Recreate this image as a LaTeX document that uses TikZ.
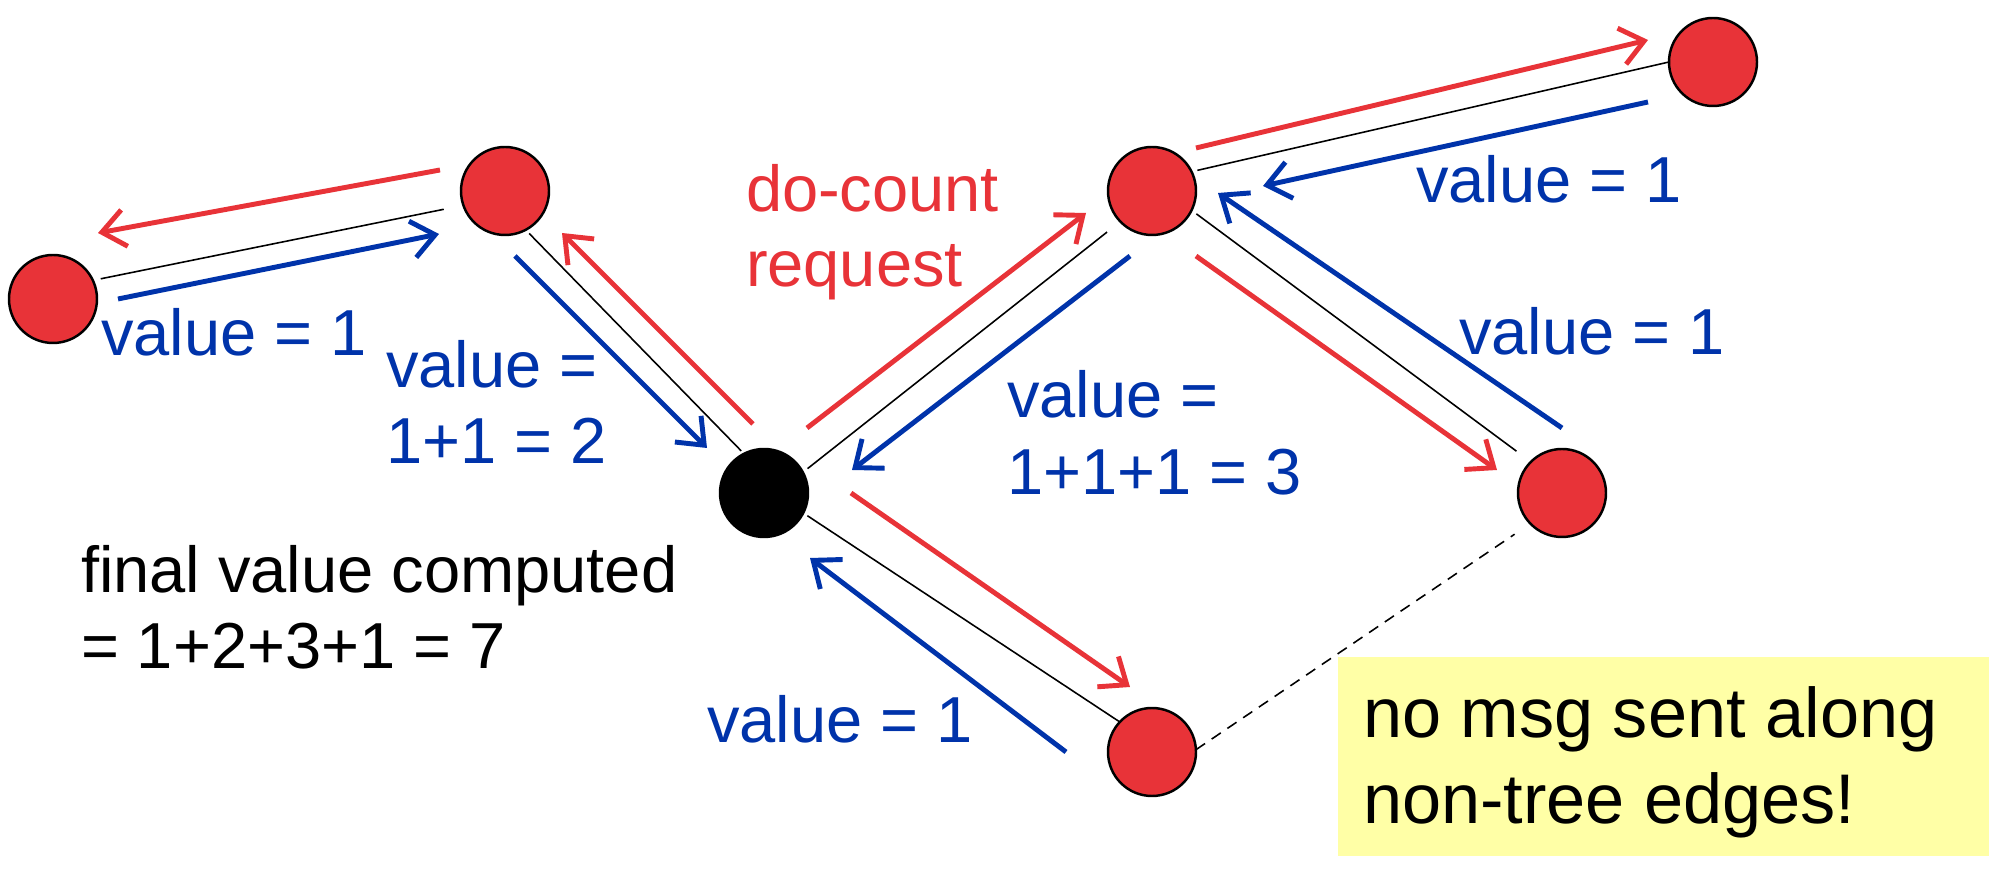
\documentclass[tikz,border=0pt]{standalone}
\usepackage{fontspec}
\setmainfont{Liberation Sans}
\usetikzlibrary{arrows.meta}
\definecolor{nred}{RGB}{232,51,56}
\definecolor{nblue}{RGB}{0,51,170}
\definecolor{noteyellow}{RGB}{255,255,166}
\tikzset{
  vertex/.style={circle, draw=black, line width=0.7pt, fill=nred, minimum size=0.88cm, inner sep=0pt, outer sep=0pt},
  rootv/.style={vertex, fill=black},
  treeedge/.style={draw=black, line width=0.45pt},
  nontree/.style={treeedge, dash pattern=on 0.11cm off 0.08cm},
  msgtip/.style={-{Straight Barb[length=0.23cm,width=0.37cm]}},
  reqarrow/.style={draw=nred, line width=1.4pt, msgtip},
  valarrow/.style={draw=nblue, line width=1.4pt, msgtip},
  lbl/.style={anchor=base west, inner sep=0pt, outer sep=0pt, font=\fontsize{18.5}{22}\selectfont},
  bluelbl/.style={lbl, text=nblue},
  redlbl/.style={lbl, text=nred},
  blacklbl/.style={lbl, text=black},
  notelbl/.style={anchor=base west, inner sep=0pt, outer sep=0pt, text=black, font=\fontsize{20}{24.5}\selectfont},
  notebox/.style={fill=noteyellow, draw=none}
}
\begin{document}
\begin{tikzpicture}
\useasboundingbox (0,0) rectangle (20,-8.7);

% note box
\path[notebox] (13.38,-6.57) rectangle (19.89,-8.56);

% tree nodes
\node[vertex] (A) at (0.53,-2.99) {};
\node[vertex] (B) at (5.05,-1.91) {};
\node[rootv]  (C) at (7.64,-4.93) {};
\node[vertex] (D) at (11.52,-1.91) {};
\node[vertex] (E) at (17.13,-0.62) {};
\node[vertex] (F) at (15.62,-4.93) {};
\node[vertex] (G) at (11.52,-7.52) {};

% edges
\draw[treeedge, shorten <=0.08cm, shorten >=0.20cm] (A.25) -- (B.199);
\draw[treeedge, shorten <=0.05cm, shorten >=0.04cm] (B.-62) -- (C.117);
\draw[treeedge, shorten <=0.06cm, shorten >=0.17cm] (C.28) -- (D.224);
\draw[treeedge, shorten <=0.06cm] (D.26) -- (E.180);
\draw[treeedge, shorten <=0.06cm, shorten >=0.18cm] (D.-26) -- (F.135);
\draw[treeedge, shorten <=0.05cm] (C.-27) -- (G.137);
\draw[nontree, shorten >=0.19cm] (G.3) -- (F.224);

% message arrow end points
\coordinate (rBAs) at (4.40,-1.70);  \coordinate (rBAt) at (0.98,-2.33);
\coordinate (bABs) at (1.18,-2.99);  \coordinate (bABt) at (4.39,-2.34);
\coordinate (bBCs) at (5.15,-2.56);  \coordinate (bBCt) at (7.07,-4.48);
\coordinate (rCBs) at (7.53,-4.24);  \coordinate (rCBt) at (5.62,-2.33);
\coordinate (rCDs) at (8.07,-4.28);  \coordinate (rCDt) at (10.86,-2.13);
\coordinate (bDCs) at (11.30,-2.56); \coordinate (bDCt) at (8.52,-4.70);
\coordinate (rDEs) at (11.96,-1.48); \coordinate (rDEt) at (16.48,-0.40);
\coordinate (bEDs) at (16.48,-1.02); \coordinate (bEDt) at (12.63,-1.86);
\coordinate (rDFs) at (11.96,-2.56); \coordinate (rDFt) at (14.97,-4.70);
\coordinate (bFDs) at (15.62,-4.28); \coordinate (bFDt) at (12.18,-1.93);
\coordinate (rCGs) at (8.51,-4.93);  \coordinate (rCGt) at (11.30,-6.87);
\coordinate (bGCs) at (10.66,-7.52); \coordinate (bGCt) at (8.10,-5.58);

% do-count requests
\draw[reqarrow] (rBAs) -- (rBAt);
\draw[reqarrow] (rCBs) -- (rCBt);
\draw[reqarrow] (rCDs) -- (rCDt);
\draw[reqarrow] (rDEs) -- (rDEt);
\draw[reqarrow] (rDFs) -- (rDFt);
\draw[reqarrow] (rCGs) -- (rCGt);

% value replies
\draw[valarrow] (bABs) -- (bABt);
\draw[valarrow] (bBCs) -- (bBCt);
\draw[valarrow] (bDCs) -- (bDCt);
\draw[valarrow] (bEDs) -- (bEDt);
\draw[valarrow] (bFDs) -- (bFDt);
\draw[valarrow] (bGCs) -- (bGCt);

% labels
\node[bluelbl] (lAB) at (1.01,-3.56) {value = 1};
\node[bluelbl] (lBCa) at (3.86,-3.88) {value =};
\node[bluelbl] (lBCb) at (3.86,-4.64) {1+1 = 2};
\node[redlbl] (reqa) at (7.46,-2.12) {do-count};
\node[redlbl] (reqb) at (7.46,-2.87) {request};
\node[bluelbl] (lED) at (14.16,-2.03) {value = 1};
\node[bluelbl] (lFD) at (14.59,-3.55) {value = 1};
\node[bluelbl] (lDCa) at (10.07,-4.18) {value =};
\node[bluelbl] (lDCb) at (10.07,-4.95) {1+1+1 = 3};
\node[bluelbl] (lGC) at (7.07,-7.43) {value = 1};
\node[blacklbl] (fina) at (0.81,-5.93) {final value computed};
\node[blacklbl] (finb) at (0.81,-6.69) {= 1+2+3+1 = 7};
\node[notelbl] (nota) at (13.63,-7.38) {no msg sent along};
\node[notelbl] (notb) at (13.63,-8.24) {non-tree edges!};
\end{tikzpicture}
\end{document}
